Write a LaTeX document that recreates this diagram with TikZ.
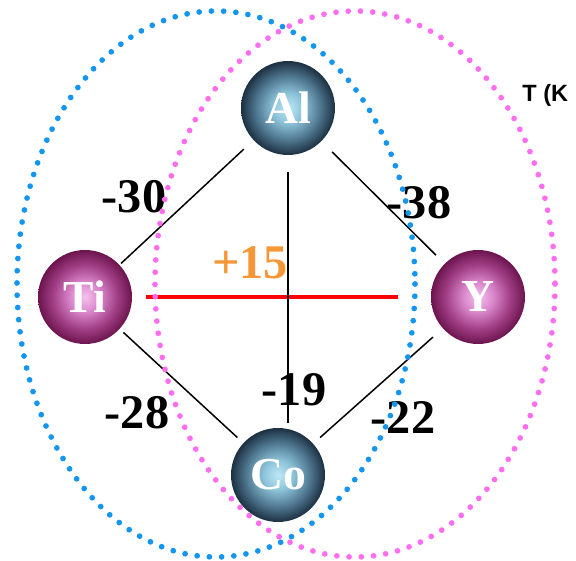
\documentclass[tikz,border=0pt]{standalone}
\usepackage{fontspec}
\setmainfont{Liberation Serif}
\setsansfont{Liberation Sans}

\definecolor{ringblue}{RGB}{20,150,240}
\definecolor{ringpink}{RGB}{255,110,240}
\definecolor{gainorange}{RGB}{245,150,55}
\definecolor{bluein}{RGB}{188,232,248}
\definecolor{bluemid}{RGB}{140,195,216}
\definecolor{bluedark}{RGB}{80,120,145}
\definecolor{blueout}{RGB}{28,48,66}
\definecolor{pinkin}{RGB}{246,192,236}
\definecolor{pinkmid}{RGB}{218,135,204}
\definecolor{pinkdark}{RGB}{162,64,134}
\definecolor{pinkout}{RGB}{108,20,78}

\pgfdeclareradialshading{blueball}{\pgfpoint{0bp}{0bp}}{color(0bp)=(bluein); color(8bp)=(bluemid); color(17bp)=(bluedark); color(25bp)=(blueout); color(50bp)=(blueout)}
\pgfdeclareradialshading{pinkball}{\pgfpoint{0bp}{0bp}}{color(0bp)=(pinkin); color(8bp)=(pinkmid); color(17bp)=(pinkdark); color(25bp)=(pinkout); color(50bp)=(pinkout)}

\begin{document}
\begin{tikzpicture}[
    x=0.02cm, y=-0.02cm,
    atom/.style={circle, minimum size=1.88cm, inner sep=0pt, text=white,
        font=\fontsize{26}{26}\selectfont\bfseries},
    bluatom/.style={atom, shading=blueball},
    pnkatom/.style={atom, shading=pinkball},
    bond/.style={line width=0.85pt},
    energy/.style={font=\fontsize{27.5}{28}\selectfont\bfseries},
    ring/.style={line width=0.115cm, line cap=round, dash pattern=on 0pt off 0.245cm}
]
\useasboundingbox (0,0) rectangle (576,561);

\node[bluatom] (al) at (288,108) {Al};
\node[pnkatom] (ti) at (85,297) {Ti};
\node[pnkatom] (y) at (478,297) {Y};
\node[bluatom] (co) at (278,475) {Co};

\draw[bond, shorten <=0.26cm, shorten >=0.04cm] (al) -- (ti);
\draw[bond, shorten <=0.30cm, shorten >=0.24cm] (al) -- (y);
\draw[bond, shorten <=0.10cm, shorten >=0.16cm] (ti) -- (co);
\draw[bond, shorten <=0.26cm, shorten >=0.18cm] (y) -- (co);

\draw[red, line width=2.8pt, shorten <=0.28cm, shorten >=0.66cm] (ti) -- (y);
\draw[line width=1.7pt, shorten <=0.34cm, shorten >=0.10cm] (al.south) -- (al.south |- co.north);

\node[energy] (e30) at (134,197) {-30};
\node[energy] (e38) at (419,203) {-38};
\node[energy, text=gainorange] (e15) at (250,263) {+15};
\node[energy] (e28) at (137,413) {-28};
\node[energy] (e19) at (294,390) {-19};
\node[energy] (e22) at (403,418) {-22};

\node[anchor=base west, font=\sffamily\bfseries\fontsize{13.4}{14}\selectfont, inner sep=0pt] (tk) at (522,101) {T (K};

% dotted rings
\draw[ring, ringblue] (216,284) ellipse [x radius=199, y radius=273];
\draw[ring, ringpink] (355,284) ellipse [x radius=200, y radius=273];
\end{tikzpicture}
\end{document}
